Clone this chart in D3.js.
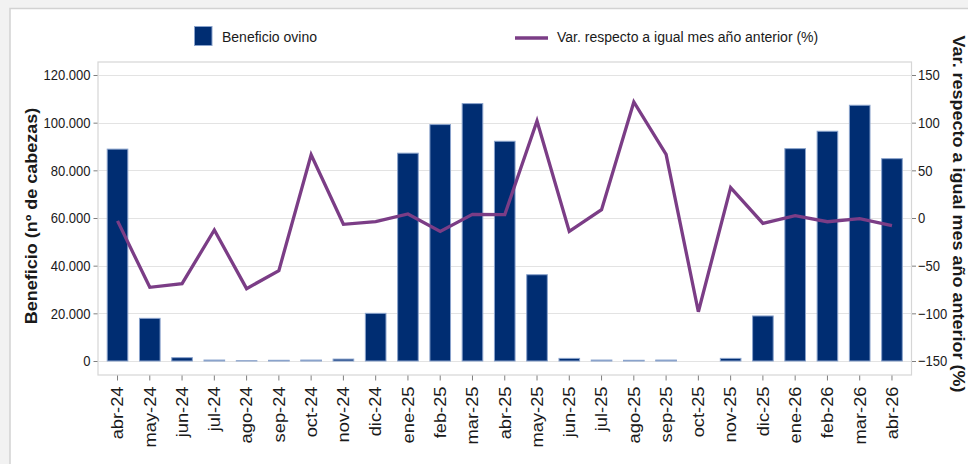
<!DOCTYPE html>
<html>
<head>
<meta charset="utf-8">
<script src="https://cdn.jsdelivr.net/npm/d3@7"></script>
<style>
  html, body { margin: 0; padding: 0; background: #f2f2f2; }
  svg { display: block; font-family: "Liberation Sans", Arial, sans-serif; }
</style>
</head>
<body>
<svg id="chart" width="968" height="464"></svg>
<script>
// ---- Data ----
const months = ["abr-24","may-24","jun-24","jul-24","ago-24","sep-24","oct-24","nov-24","dic-24",
  "ene-25","feb-25","mar-25","abr-25","may-25","jun-25","jul-25","ago-25","sep-25","oct-25","nov-25","dic-25",
  "ene-26","feb-26","mar-26","abr-26"];
const beneficio = [88900, 17900, 1400, 400, 100, 300, 400, 800, 20000,
  87200, 99200, 108000, 92200, 36200, 1100, 400, 300, 400, 0, 1100, 18900,
  89100, 96400, 107300, 84900];
const variacion = [-3, -72.7, -68.9, -12.6, -74.1, -55.2, 66.4, -6.6, -3.8,
  4.2, -14, 3.8, 3.5, 101.7, -14, 8.7, 121.7, 66.8, -98.3, 31.8, -5.6,
  2.4, -3.9, -0.7, -8.1];
const leftTicks = [0, 20000, 40000, 60000, 80000, 100000, 120000];
const rightTicks = [-150, -100, -50, 0, 50, 100, 150];
const seriesNames = ["Beneficio ovino", "Var. respecto a igual mes año anterior (%)"];
const axisTitles = ["Beneficio (nº de cabezas)", "Var. respecto a igual mes año anterior (%)"];

// ---- Style ----
const barColor = "#002d72", barStroke = "#8aa3cc", lineColor = "#7b3d86";
const gridColor = "#e3e3e3", frameColor = "#d6d6d6", tickColor = "#7f7f7f";
const SQ = 0.88;  // glyph compression for rotated texts
const SQT = 0.88; // horizontal compression for tick labels

const svg = d3.select("#chart");
svg.append("rect").attr("width", 968).attr("height", 464).attr("fill", "#f2f2f2");
svg.append("rect").attr("x", 10).attr("y", 8.5).attr("width", 980).attr("height", 480)
  .attr("fill", "#fff").attr("stroke", "#d2d2d2").attr("stroke-width", 1.5);

const plot = {l: 98, r: 911.5, t: 62, b: 375};
const x = d3.scaleBand().domain(months).range([plot.l, plot.r]).paddingInner(0.33).paddingOuter(0.27);
const yL = d3.scaleLinear().domain([0, 120000]).range([361, 75]);
const yR = d3.scaleLinear().domain([-150, 150]).range([361, 75]);

// frame
svg.append("rect").attr("x", plot.l).attr("y", plot.t).attr("width", plot.r - plot.l).attr("height", plot.b - plot.t)
  .attr("fill", "#fff").attr("stroke", frameColor).attr("stroke-width", 1.2);

// grid
svg.append("g").selectAll("line").data(leftTicks).join("line")
  .attr("x1", plot.l).attr("x2", plot.r)
  .attr("y1", d => Math.round(yL(d)) + 0.5).attr("y2", d => Math.round(yL(d)) + 0.5)
  .attr("stroke", gridColor).attr("stroke-width", 1);

// bars
svg.append("g").selectAll("rect").data(months).join("rect")
  .attr("x", (d) => x(d) + 0.5)
  .attr("width", x.bandwidth() - 1)
  .attr("y", (d, i) => yL(beneficio[i]))
  .attr("height", (d, i) => yL(0) - yL(beneficio[i]))
  .attr("fill", barColor)
  .attr("stroke", (d, i) => beneficio[i] > 0 ? barStroke : "none")
  .attr("stroke-width", 1);

// line
const line = d3.line().x((d, i) => x(months[i]) + x.bandwidth() / 2).y(d => yR(d));
svg.append("path").datum(variacion).attr("d", line)
  .attr("fill", "none").attr("stroke", lineColor).attr("stroke-width", 3.3)
  .attr("stroke-linejoin", "miter");

// axes
const fmt = d3.format(",.0f");
const fmtES = v => fmt(v).replace(/,/g, ".");
const gL = svg.append("g").attr("transform", `translate(${plot.l - 0.5},0)`)
  .call(d3.axisLeft(yL).tickValues(leftTicks).tickFormat(fmtES).tickSize(4).tickPadding(3));
const gR = svg.append("g").attr("transform", `translate(${plot.r + 0.5},0)`)
  .call(d3.axisRight(yR).tickValues(rightTicks).tickFormat(d3.format("d")).tickSize(4).tickPadding(2));
const gB = svg.append("g").attr("transform", `translate(0,${plot.b + 0.5})`)
  .call(d3.axisBottom(x).tickSize(5).tickSizeOuter(0));

[gL, gR, gB].forEach(g => {
  g.select(".domain").remove();
  g.selectAll(".tick line").attr("stroke", tickColor);
  g.selectAll("text").attr("fill", "#1a1a1a").attr("font-family", "Liberation Sans, Arial, sans-serif");
});
[gL, gR].forEach(g => {
  g.selectAll("text").attr("font-size", 14.8)
    .attr("transform", function () {
      const tx = +this.getAttribute("x");
      return `translate(${tx},0) scale(${SQT},1)`;
    })
    .attr("x", 0);
});
gB.selectAll("text")
  .attr("font-size", 18.3)
  .attr("x", 0).attr("y", 0).attr("dy", "0.36em")
  .attr("text-anchor", "end")
  .attr("transform", `translate(0,11) rotate(-90) scale(1,${SQ})`);

// axis titles
svg.append("text")
  .attr("transform", `translate(31,216) rotate(-90) scale(1,${SQ})`)
  .attr("text-anchor", "middle").attr("dy", "0.35em")
  .attr("font-size", 18).attr("font-weight", "bold").attr("fill", "#1a1a1a")
  .text(axisTitles[0]);
svg.append("text")
  .attr("transform", `translate(959,214) rotate(90) scale(1,${SQ})`)
  .attr("text-anchor", "middle").attr("dy", "0.35em")
  .attr("font-size", 18).attr("font-weight", "bold").attr("fill", "#1a1a1a")
  .text(axisTitles[1]);

// legend
const lg = svg.append("g");
lg.append("rect").attr("x", 194.5).attr("y", 26.5).attr("width", 17.5).attr("height", 19)
  .attr("fill", barColor).attr("stroke", barStroke).attr("stroke-width", 1);
lg.append("text").attr("x", 222).attr("y", 37).attr("dy", "0.35em")
  .attr("font-size", 14).attr("fill", "#1a1a1a").text(seriesNames[0]);
lg.append("line").attr("x1", 515).attr("x2", 548).attr("y1", 38).attr("y2", 38)
  .attr("stroke", lineColor).attr("stroke-width", 3.5);
lg.append("text").attr("x", 557).attr("y", 37).attr("dy", "0.35em")
  .attr("font-size", 14).attr("fill", "#1a1a1a").text(seriesNames[1]);
</script>
</body>
</html>
